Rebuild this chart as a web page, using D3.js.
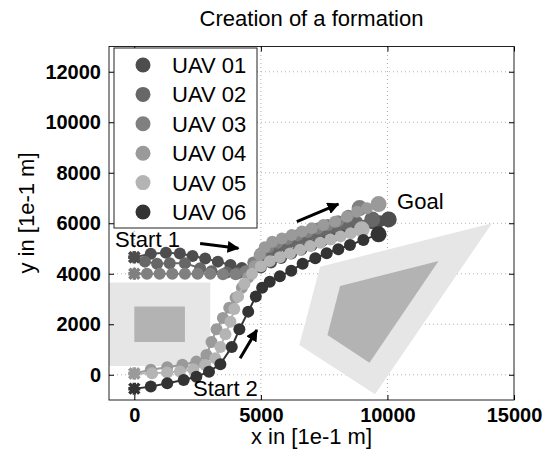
<!DOCTYPE html>
<html>
<head>
<meta charset="utf-8">
<script src="https://cdn.jsdelivr.net/npm/d3@7"></script>
<style>
  body { margin: 0; background: #fff; }
  text { font-family: "Liberation Sans", Arial, Helvetica, sans-serif; fill: #000; }
</style>
</head>
<body>
<div id="container"></div>
<script>
/* DATA */
const xTicks = [0, 5000, 10000, 15000];
const yTicks = [0, 2000, 4000, 6000, 8000, 10000, 12000];
const uavNames = ["UAV 01", "UAV 02", "UAV 03", "UAV 04", "UAV 05", "UAV 06"];

const uav01 = [[0,4650],[650,4790],[1250,4830],[1800,4800],[2300,4700],[2800,4600],[3300,4480],[3800,4350],[4250,4230],[4650,4150],[5000,4250],[5400,4450],[5800,4620],[6200,4800],[6600,4960],[7000,5120],[7400,5280],[7800,5440],[8200,5600],[8600,5760],[9000,5890],[9400,6000],[9700,6080],[10050,6150]];
const uav02 = [[0,4650],[420,4480],[900,4400],[1400,4420],[2000,4420],[2600,4220],[3050,4100],[3650,4050],[4100,4020],[4500,4100],[4850,4400],[5200,4700],[5600,4900],[6000,5070],[6400,5230],[6800,5380],[7200,5520],[7600,5660],[8000,5800],[8400,5930],[8800,6050],[9400,6150]];
const uav03 = [[0,4000],[500,4000],[1000,4000],[1500,4000],[2000,4000],[2500,4000],[3000,4000],[3500,3980],[4000,3980],[4400,4100],[4700,4450],[5000,4800],[5300,5050],[5650,5230],[6050,5380],[6450,5520],[6850,5650],[7250,5790],[7650,5930],[8050,6080],[8450,6300],[8900,6600]];
const uav04 = [[0,50],[650,200],[1300,300],[1900,400],[2450,520],[2850,780],[3050,1300],[3250,1800],[3500,2250],[3750,2650],[4000,3050],[4250,3450],[4500,3850],[4750,4300],[4950,4750],[5150,5050],[5450,5270],[5830,5400],[6220,5530],[6620,5670],[7010,5800],[7470,5930],[7930,6060],[8400,6260],[8800,6460],[9190,6590],[9650,6760]];
const uav05 = [[0,50],[700,60],[1300,90],[1800,130],[2330,215],[2800,390],[3200,650],[3400,1100],[3600,1600],[3800,2100],[3950,2600],[4100,3100],[4350,3600],[4650,4000],[5000,4300],[5350,4500],[5750,4650],[6150,4800],[6550,4950],[6950,5100],[7350,5230],[7750,5360],[8150,5480],[8550,5600],[8985,5760]];
const uav06 = [[0,-550],[650,-470],[1300,-340],[1950,-210],[2450,-80],[2950,120],[3400,420],[3850,1100],[4150,1800],[4500,2500],[4800,3100],[5050,3450],[5350,3680],[5750,3900],[6200,4120],[6650,4400],[7150,4610],[7600,4810],[8060,4970],[8520,5140],[9050,5340],[9650,5560]];
const paths = [uav01, uav02, uav03, uav04, uav05, uav06];

// obstacles: inner area and safety margin
const rectOuter = [[-1000,350],[3000,350],[3000,3650],[-1000,3650]];
const rectInner = [[0,1300],[2000,1300],[2000,2700],[0,2700]];
const polyOuter = [[7340,4280],[14130,6000],[9510,-770],[6520,1180]];
const polyInner = [[8130,3515],[12020,4505],[9290,480],[7630,1575]];

const arrows = [[2600,5200,4110,5010],[4180,650,4840,1770],[6420,6060,8060,6760]];
const notes = [["Start 1",-760,5060],["Start 2",2320,-840],["Goal",10380,6560]];

/* STYLE */
const colors = ["#4d4d4d","#676767","#808080","#9a9a9a","#b4b4b4","#333333"];
const width = 552, height = 456;
const margin = {top:46.5, right:38, bottom:56, left:109};

const xScale = d3.scaleLinear().domain([-1000,15000]).range([margin.left, width-margin.right]);
const yScale = d3.scaleLinear().domain([-1000,13000]).range([height-margin.bottom, margin.top]);

const svg = d3.select("#container").append("svg")
    .attr("width", width).attr("height", height);

svg.append("defs").append("clipPath").attr("id","clip")
  .append("rect")
    .attr("x", margin.left).attr("y", margin.top)
    .attr("width", xScale.range()[1]-margin.left)
    .attr("height", yScale.range()[0]-margin.top);

// grid
const grid = svg.append("g").attr("stroke","#b0b0b0").attr("stroke-dasharray","1,3");
grid.selectAll("line.gx").data(xTicks.slice(0,-1)).join("line")
    .attr("x1", d=>xScale(d)).attr("x2", d=>xScale(d))
    .attr("y1", yScale.range()[0]).attr("y2", yScale.range()[1]);
grid.selectAll("line.gy").data(yTicks).join("line")
    .attr("x1", xScale.range()[0]).attr("x2", xScale.range()[1])
    .attr("y1", d=>yScale(d)).attr("y2", d=>yScale(d));

const plot = svg.append("g").attr("clip-path","url(#clip)");
const toPts = arr => arr.map(p => [xScale(p[0]), yScale(p[1])].join(",")).join(" ");

plot.selectAll("polygon.obs")
  .data([[rectOuter,"#e6e6e6"],[rectInner,"#b3b3b3"],[polyOuter,"#e6e6e6"],[polyInner,"#b3b3b3"]])
  .join("polygon")
    .attr("points", d=>toPts(d[0]))
    .attr("fill", d=>d[1]);

// trajectories
const lineGen = d3.line().x(d=>xScale(d[0])).y(d=>yScale(d[1]));
paths.forEach((p,i) => {
  const g = plot.append("g");
  g.append("path").attr("d", lineGen(p))
    .attr("fill","none").attr("stroke", colors[i]).attr("stroke-width",2);
  g.selectAll("circle").data(p.slice(1)).join("circle")
    .attr("cx", d=>xScale(d[0])).attr("cy", d=>yScale(d[1]))
    .attr("r", (d,j)=> j===p.length-2 ? 8 : 6)
    .attr("fill", colors[i]);
});

// start markers (reverse order so the lower index sits on top)
paths.slice().reverse().forEach((p,k) => {
  const i = paths.length-1-k;
  const cx = xScale(p[0][0]), cy = yScale(p[0][1]);
  plot.append("path")
    .attr("d", `M${cx-6},${cy}H${cx+6}M${cx},${cy-6}V${cy+6}M${cx-5},${cy-5}L${cx+5},${cy+5}M${cx-5},${cy+5}L${cx+5},${cy-5}`)
    .attr("stroke", colors[i]).attr("stroke-width",3.5);
});

// arrows
svg.append("defs").append("marker")
    .attr("id","head").attr("viewBox","0 0 10 10")
    .attr("refX",9).attr("refY",5)
    .attr("markerWidth",4).attr("markerHeight",4)
    .attr("markerUnits","strokeWidth").attr("orient","auto")
  .append("path").attr("d","M0,0L10,5L0,10z").attr("fill","#000");
svg.selectAll("line.arrow").data(arrows).join("line")
    .attr("class","arrow")
    .attr("x1", d=>xScale(d[0])).attr("y1", d=>yScale(d[1]))
    .attr("x2", d=>xScale(d[2])).attr("y2", d=>yScale(d[3]))
    .attr("stroke","#000").attr("stroke-width",3)
    .attr("marker-end","url(#head)");

svg.selectAll("text.note").data(notes).join("text")
    .attr("class","note")
    .attr("x", d=>xScale(d[1])).attr("y", d=>yScale(d[2]))
    .attr("font-size","22px")
    .text(d=>d[0]);

// axes box and inward ticks
const x0 = xScale.range()[0], x1 = xScale.range()[1];
const y0 = yScale.range()[0], y1 = yScale.range()[1];
svg.append("rect").attr("x",x0).attr("y",y1).attr("width",x1-x0).attr("height",y0-y1)
    .attr("fill","none").attr("stroke","#222").attr("stroke-width",1);

svg.append("g").attr("transform",`translate(0,${y0})`)
  .call(d3.axisBottom(xScale).tickValues(xTicks).tickSize(-5).tickPadding(8).tickFormat(d3.format("d")))
  .call(g => g.select(".domain").remove())
  .call(g => g.selectAll("text").attr("font-size","20px").attr("font-weight","bold").attr("fill","#000").attr("font-family",null));
svg.append("g").attr("transform",`translate(0,${y1})`)
  .call(d3.axisTop(xScale).tickValues(xTicks).tickSize(-5).tickFormat(""))
  .call(g => g.select(".domain").remove());
svg.append("g").attr("transform",`translate(${x0},0)`)
  .call(d3.axisLeft(yScale).tickValues(yTicks).tickSize(-5).tickPadding(8).tickFormat(d3.format("d")))
  .call(g => g.select(".domain").remove())
  .call(g => g.selectAll("text").attr("font-size","20px").attr("font-weight","bold").attr("fill","#000").attr("font-family",null));
svg.append("g").attr("transform",`translate(${x1},0)`)
  .call(d3.axisRight(yScale).tickValues(yTicks).tickSize(-5).tickFormat(""))
  .call(g => g.select(".domain").remove());

// legend
const legend = svg.append("g");
legend.append("rect").attr("x",114).attr("y",48).attr("width",143).attr("height",180)
    .attr("fill","#fff").attr("stroke","#222");
const items = legend.selectAll("g.item").data(uavNames).join("g")
    .attr("transform",(d,i)=>`translate(143,${65 + i*29.4})`);
items.append("circle").attr("r",7.5).attr("fill",(d,i)=>colors[i]);
items.append("text").attr("x",29).attr("dy","0.36em").attr("font-size","22px").text(d=>d);

// titles
svg.append("text").attr("x",(x0+x1)/2).attr("y",26).attr("text-anchor","middle")
    .attr("font-size","22px").text("Creation of a formation");
svg.append("text").attr("x",(x0+x1)/2).attr("y",444).attr("text-anchor","middle")
    .attr("font-size","22px").text("x in [1e-1 m]");
svg.append("text").attr("transform","translate(34,213) rotate(-90)").attr("text-anchor","middle")
    .attr("font-size","22px").text("y in [1e-1 m]");
</script>
</body>
</html>
